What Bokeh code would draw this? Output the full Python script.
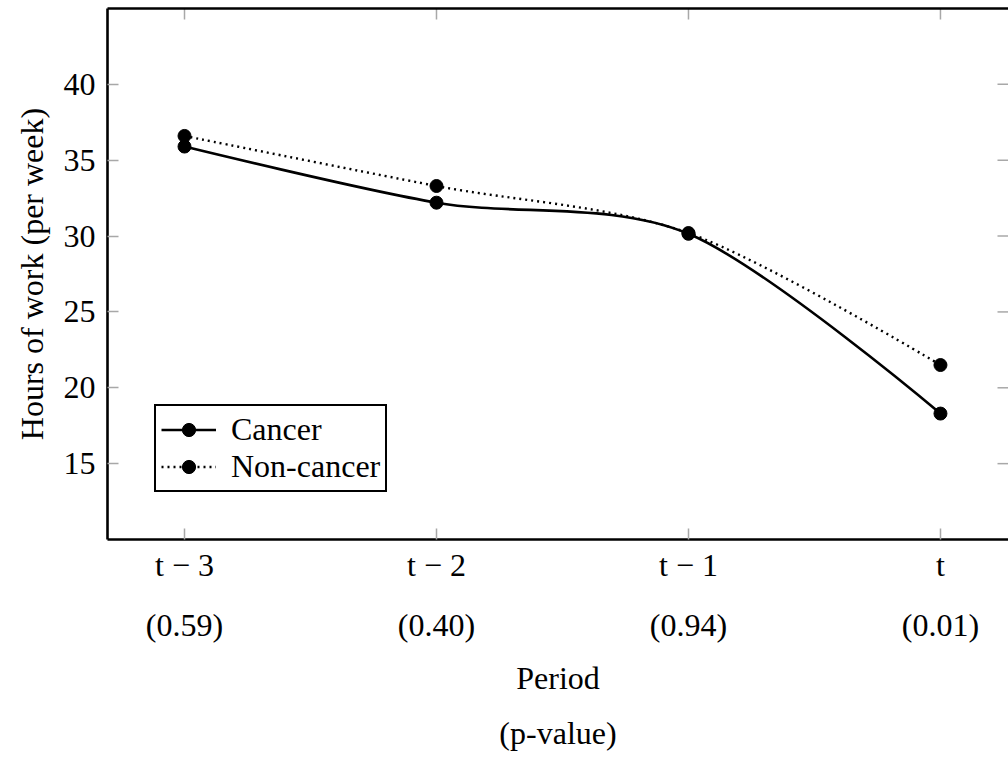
from bokeh.plotting import figure
from bokeh.models import (FixedTicker, LinearAxis, Range1d, Legend, LegendItem,
                          ColumnDataSource, Title)
from bokeh.embed import file_html
from bokeh.resources import INLINE

# ---- data ----
periods = ["t − 3", "t − 2", "t − 1", "t"]
p_values = ["(0.59)", "(0.40)", "(0.94)", "(0.01)"]
cancer = [35.9, 32.2, 30.15, 18.3]
non_cancer = [36.6, 33.3, 30.2, 21.5]
y_ticks = [15, 20, 25, 30, 35, 40]

xs = list(range(len(periods)))

FONT = "Liberation Serif"
FS = "32px"
TICK_GRAY = "#a8a8a8"

X_LO, X_HI = -0.3056, 3.27
Y_LO, Y_HI = 10, 45


def smooth_segments(xv, yv, tension=0.55):
    """Bezier segments of a TikZ-style 'smooth' curve through the points."""
    f = 0.2775 * tension
    n = len(xv)
    out = dict(x0=[], y0=[], x1=[], y1=[], cx0=[], cy0=[], cx1=[], cy1=[])
    for i in range(n - 1):
        if i == 0:
            c0 = (xv[0], yv[0])
        else:
            c0 = (xv[i] + f * (xv[i + 1] - xv[i - 1]), yv[i] + f * (yv[i + 1] - yv[i - 1]))
        if i == n - 2:
            c1 = (xv[n - 1], yv[n - 1])
        else:
            c1 = (xv[i + 1] - f * (xv[i + 2] - xv[i]), yv[i + 1] - f * (yv[i + 2] - yv[i]))
        out["x0"].append(xv[i]); out["y0"].append(yv[i])
        out["x1"].append(xv[i + 1]); out["y1"].append(yv[i + 1])
        out["cx0"].append(c0[0]); out["cy0"].append(c0[1])
        out["cx1"].append(c1[0]); out["cy1"].append(c1[1])
    return ColumnDataSource(out)


p = figure(width=1008, height=765,
           x_range=Range1d(X_LO, X_HI), y_range=Range1d(Y_LO, Y_HI),
           output_backend="svg", toolbar_location=None,
           min_border_left=107, min_border_right=0, min_border_top=8,
           min_border_bottom=226)
p.outline_line_color = None
p.grid.visible = False
p.background_fill_color = "white"

# ---- inward ticks on top and right (frame ticks) ----
p.ray(x=xs, y=[Y_HI] * len(xs), length=11, length_units="screen",
      angle=-90, angle_units="deg", line_color=TICK_GRAY, line_width=1.5)
p.ray(x=[X_HI] * len(y_ticks), y=y_ticks, length=11, length_units="screen",
      angle=180, angle_units="deg", line_color=TICK_GRAY, line_width=1.5)

# ---- series ----
src_c = smooth_segments(xs, cancer)
src_n = smooth_segments(xs, non_cancer)

rc = p.bezier(x0="x0", y0="y0", x1="x1", y1="y1", cx0="cx0", cy0="cy0",
              cx1="cx1", cy1="cy1", source=src_c, line_color="black", line_width=2.6)
rn = p.bezier(x0="x0", y0="y0", x1="x1", y1="y1", cx0="cx0", cy0="cy0",
              cx1="cx1", cy1="cy1", source=src_n, line_color="black", line_width=2.4,
              line_dash="2 4")
sc = p.scatter(xs, cancer, size=13, marker="circle", fill_color="black", line_color="black")
sn = p.scatter(xs, non_cancer, size=13, marker="circle", fill_color="black", line_color="black")

# ---- axes ----
def style_ticks(ax):
    ax.major_tick_in = 11
    ax.major_tick_out = 0
    ax.major_tick_line_color = TICK_GRAY
    ax.major_tick_line_width = 1.5
    ax.minor_tick_line_color = None


yax = p.yaxis[0]
yax.ticker = FixedTicker(ticks=y_ticks)
style_ticks(yax)
yax.axis_line_width = 2.6
yax.axis_line_color = "black"
yax.major_label_text_font = FONT
yax.major_label_text_font_size = FS
yax.major_label_text_color = "black"
yax.major_label_standoff = 12

ytitle = Title(text="Hours of work (per week)", align="center", offset=24,
               text_font=FONT, text_font_size=FS, text_font_style="normal",
               text_color="black", standoff=22)
p.add_layout(ytitle, "left")

xax = p.xaxis[0]
xax.ticker = FixedTicker(ticks=xs)
xax.major_label_overrides = {i: lab for i, lab in zip(xs, periods)}
style_ticks(xax)
xax.axis_line_width = 2.6
xax.axis_line_color = "black"
xax.major_label_text_font = FONT
xax.major_label_text_font_size = FS
xax.major_label_text_color = "black"
xax.major_label_standoff = 7

# second row below: p-values and "Period"
xb = LinearAxis(ticker=FixedTicker(ticks=xs),
                major_label_overrides={i: lab for i, lab in zip(xs, p_values)})
xb.axis_line_color = None
xb.major_tick_line_color = None
xb.minor_tick_line_color = None
xb.major_tick_in = 0
xb.major_tick_out = 0
xb.major_label_text_font = FONT
xb.major_label_text_font_size = FS
xb.major_label_text_color = "black"
xb.major_label_standoff = 21
xb.axis_label = "Period"
xb.axis_label_text_font = FONT
xb.axis_label_text_font_size = FS
xb.axis_label_text_font_style = "normal"
xb.axis_label_text_color = "black"
xb.axis_label_standoff = 14
p.add_layout(xb, "below")

xc = LinearAxis(ticker=FixedTicker(ticks=[]))
xc.axis_line_color = None
xc.major_tick_line_color = None
xc.minor_tick_line_color = None
xc.major_tick_in = 0
xc.major_tick_out = 0
xc.major_label_standoff = 0
xc.axis_label = "(p-value)"
xc.axis_label_text_font = FONT
xc.axis_label_text_font_size = FS
xc.axis_label_text_font_style = "normal"
xc.axis_label_text_color = "black"
xc.axis_label_standoff = 16
p.add_layout(xc, "below")

# top frame line
xt = LinearAxis(ticker=FixedTicker(ticks=[]))
xt.axis_line_width = 2.6
xt.axis_line_color = "black"
xt.major_tick_line_color = None
xt.minor_tick_line_color = None
xt.major_tick_in = 0
xt.major_tick_out = 0
xt.major_label_standoff = 0
p.add_layout(xt, "above")

# ---- legend ----
legend = Legend(items=[LegendItem(label="Cancer", renderers=[rc, sc]),
                       LegendItem(label="Non-cancer", renderers=[rn, sn])],
                location=(47, 47))
legend.label_text_font = FONT
legend.label_text_font_size = FS
legend.label_text_color = "black"
legend.border_line_color = "black"
legend.border_line_alpha = 1.0
legend.border_line_width = 2.4
legend.background_fill_alpha = 1.0
legend.glyph_width = 55
legend.glyph_height = 33
legend.label_height = 33
legend.label_standoff = 15
legend.spacing = 0
legend.padding = 5
legend.margin = 0
p.add_layout(legend, "center")

open("out.html", "w").write(file_html(p, INLINE))
